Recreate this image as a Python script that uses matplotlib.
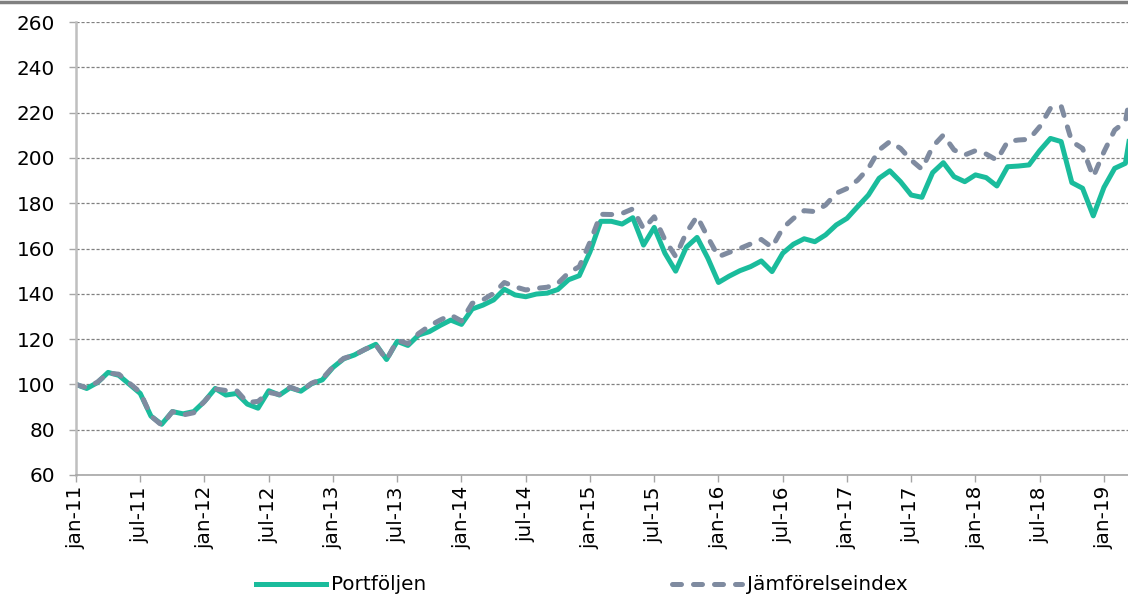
import numpy as np
import matplotlib
matplotlib.use("Agg")
from matplotlib import pyplot as plt
from matplotlib.lines import Line2D

# Monthly index values, jan-11 .. apr-19
portfoljen = [
    100.0, 98.2, 100.8, 105.3, 104.0, 100.0, 96.0, 86.0, 82.4, 88.0, 87.0, 88.0,
    92.5, 98.2, 95.3, 96.0, 91.3, 89.5, 97.2, 95.3, 98.5, 97.0, 100.3, 102.0,
    107.5, 111.3, 113.0, 115.5, 117.7, 111.0, 119.0, 117.2, 121.8, 123.3, 126.0, 128.4,
    126.5, 133.3, 135.0, 137.3, 142.0, 139.5, 138.7, 139.9, 140.3, 141.9, 146.2, 148.0,
    158.5, 172.0, 172.0, 170.8, 173.6, 161.5, 169.3, 157.9, 150.0, 160.6, 164.9, 155.8,
    145.0, 147.8, 150.2, 152.0, 154.5, 149.8, 157.9, 161.9, 164.3, 163.0, 166.0, 170.4,
    173.3, 178.5, 183.6, 191.0, 194.3, 189.5, 183.6, 182.6, 193.5, 197.9, 191.7, 189.5,
    192.5, 191.3, 187.6, 196.1, 196.4, 196.9, 203.2, 208.6, 207.2, 189.1, 186.6, 174.4,
    187.0, 195.4, 197.6, 226.0,
]
jamforelseindex = [
    100.0, 98.5, 101.0, 105.0, 104.5, 100.5, 96.5, 86.0, 82.0, 88.0, 86.5, 87.5,
    92.5, 98.0, 97.3, 97.3, 92.0, 92.5, 96.5, 95.5, 98.8, 97.0, 100.5, 102.5,
    107.8, 111.5, 113.0, 115.5, 117.5, 110.8, 119.5, 118.0, 122.5, 125.8, 128.4, 130.6,
    128.0, 135.8, 137.3, 140.2, 145.0, 143.1, 141.7, 142.4, 142.9, 144.6, 149.3, 152.0,
    162.8, 175.1, 175.0, 175.5, 177.5, 168.7, 174.0, 163.8, 156.5, 167.0, 174.2, 165.0,
    156.4, 158.3, 160.0, 162.0, 164.0, 160.5, 169.0, 173.3, 176.7, 176.3, 179.2, 184.4,
    186.5, 190.2, 195.4, 203.5, 207.2, 204.2, 199.0, 195.0, 205.0, 210.1, 203.5, 201.3,
    203.2, 201.7, 199.0, 207.2, 207.9, 208.2, 213.8, 221.9, 222.9, 207.2, 204.2, 191.7,
    202.7, 212.3, 216.0, 242.0,
]
tick_labels = ['jan-11', 'jul-11', 'jan-12', 'jul-12', 'jan-13', 'jul-13', 'jan-14',
               'jul-14', 'jan-15', 'jul-15', 'jan-16', 'jul-16', 'jan-17', 'jul-17',
               'jan-18', 'jul-18', 'jan-19']

green = '#1abc9c'
slate = '#7f8ba0'

fig = plt.figure(figsize=(11.28, 5.97), dpi=100)
ax = fig.add_axes([76/1128, 1 - 475/597, 1 - 76/1128, (475 - 22)/597])

x = np.arange(len(portfoljen))
ax.plot(x, portfoljen, color=green, lw=3.6, solid_joinstyle='round', label='Portföljen')
ax.plot(x, jamforelseindex, color=slate, lw=3.6, dashes=(1.8, 2.4),
        dash_capstyle='round', dash_joinstyle='round', label='Jämförelseindex')

ax.set_xlim(0, (1128 - 76) / 10.708)
ax.set_ylim(60, 260)
ax.set_yticks(range(60, 261, 20))
ax.set_xticks(range(0, 97, 6))
ax.set_xticklabels(tick_labels, rotation=90, fontsize=14.4)
ax.tick_params(axis='y', labelsize=14.4, length=5, width=1, color='#a6a6a6', pad=10)
ax.tick_params(axis='x', length=5, width=1, color='#a6a6a6', pad=3)

ax.grid(axis='y', color='#808080', lw=0.9, linestyle=(0, (2.5, 1.5)))
ax.set_axisbelow(True)
for s in ['top', 'right']:
    ax.spines[s].set_visible(False)
ax.spines['left'].set_color('#bfbfbf')
ax.spines['left'].set_linewidth(1.8)
ax.spines['bottom'].set_color('#a6a6a6')
ax.spines['bottom'].set_linewidth(1.2)

# grey band across the top
fig.add_artist(Line2D([0, 1], [1 - 1.5/597, 1 - 1.5/597], color='#808080', lw=2.5,
                      transform=fig.transFigure))

fig.legend(loc='center left', bbox_to_anchor=(256/1128, 1 - 585/597), ncol=2,
           frameon=False, fontsize=14.4, handlelength=3.5, handletextpad=0.25,
           columnspacing=12.3, borderpad=0, borderaxespad=0)

fig.savefig('out.png', dpi=100)
